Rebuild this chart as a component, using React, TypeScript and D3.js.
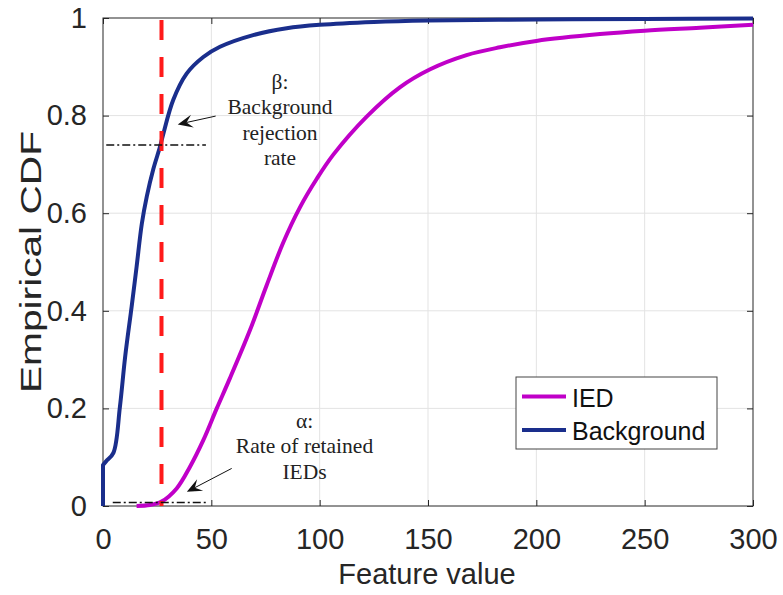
import { useRef, useEffect } from 'react';
import * as d3 from 'd3';

// Background empirical CDF (feature value, cdf); starts with a jump at 0
const bgX = [0, 0, 1.5, 4.8, 7.8, 10.2, 13.2, 15.5, 17.9, 20.2, 23.2, 26.3, 27.8, 32.4, 38.6, 46.3, 54, 69.3, 84.8, 100, 125, 150, 200, 250, 300];
const bgY = [0, 0.084, 0.092, 0.109, 0.203, 0.305, 0.408, 0.49, 0.578, 0.634, 0.69, 0.736, 0.762, 0.832, 0.886, 0.92, 0.941, 0.965, 0.979, 0.986, 0.992, 0.995, 0.997, 0.998, 0.999];

// IED empirical CDF
const iedX = [15.5, 21.7, 27, 34, 40.1, 46.3, 52.5, 58.6, 67.8, 75.5, 83.2, 90.9, 98.6, 106.3, 121.7, 137, 151, 167.8, 183.2, 200, 229.4, 250, 275.5, 300];
const iedY = [0, 0.002, 0.009, 0.036, 0.08, 0.135, 0.2, 0.262, 0.36, 0.452, 0.54, 0.612, 0.67, 0.72, 0.798, 0.858, 0.895, 0.924, 0.94, 0.953, 0.967, 0.974, 0.98, 0.986];

const xTicks = [0, 50, 100, 150, 200, 250, 300];
const yTicks = [0, 0.2, 0.4, 0.6, 0.8, 1];
const threshold = 27;
const alpha = 0.007;
const beta = 0.74;
const legendLabels = ['IED', 'Background'];
const legendColors = ['#c000c8', '#1a2e8c'];

export default function App() {
  const svgRef = useRef(null);

  useEffect(() => {
    const width = 783;
    const height = 595;
    const margin = { top: 18, right: 30, bottom: 89, left: 103 };

    const svg = d3.select(svgRef.current);
    svg.selectAll('*').remove();
    svg.attr('width', width).attr('height', height);

    const x = d3.scaleLinear().domain([0, 300]).range([margin.left, width - margin.right]);
    const y = d3.scaleLinear().domain([0, 1]).range([height - margin.bottom, margin.top]);
    const [x0, x1] = x.range();
    const [y0, y1] = y.range();

    svg.append('rect').attr('width', width).attr('height', height).attr('fill', '#fff');

    // grid
    svg.append('g')
      .selectAll('line')
      .data(xTicks.slice(1, -1))
      .join('line')
      .attr('x1', d => x(d)).attr('x2', d => x(d))
      .attr('y1', y1).attr('y2', y0)
      .attr('stroke', '#e3e3e3').attr('stroke-width', 1);
    svg.append('g')
      .selectAll('line')
      .data(yTicks.slice(1, -1))
      .join('line')
      .attr('x1', x0).attr('x2', x1)
      .attr('y1', d => y(d)).attr('y2', d => y(d))
      .attr('stroke', '#e3e3e3').attr('stroke-width', 1);

    const font = '"Liberation Sans", Arial, sans-serif';
    const serif = '"Liberation Serif", "Times New Roman", serif';

    // axes (inward ticks, box)
    const axisStyle = g => {
      g.select('.domain').remove();
      g.selectAll('.tick line').attr('stroke', '#262626');
      g.selectAll('.tick text')
        .attr('fill', '#262626')
        .attr('font-size', '29px')
        .attr('font-family', font);
    };
    svg.append('g')
      .attr('transform', `translate(0,${y0})`)
      .call(d3.axisBottom(x).tickValues(xTicks).tickSize(-6).tickPadding(22).tickFormat(d3.format('d')))
      .call(axisStyle);
    svg.append('g')
      .attr('transform', `translate(0,${y1})`)
      .call(d3.axisTop(x).tickValues(xTicks).tickSize(-6).tickFormat(() => ''))
      .call(axisStyle);
    svg.append('g')
      .attr('transform', `translate(${x0},0)`)
      .call(d3.axisLeft(y).tickValues(yTicks).tickSize(-6).tickPadding(16).tickFormat(d => d3.format('~g')(d)))
      .call(axisStyle);
    svg.append('g')
      .attr('transform', `translate(${x1},0)`)
      .call(d3.axisRight(y).tickValues(yTicks).tickSize(-6).tickFormat(() => ''))
      .call(axisStyle);
    svg.append('rect')
      .attr('x', x0).attr('y', y1)
      .attr('width', x1 - x0).attr('height', y0 - y1)
      .attr('fill', 'none').attr('stroke', '#262626').attr('stroke-width', 1);

    // curves
    const line = d3.line().x(d => x(d[0])).y(d => y(d[1])).curve(d3.curveCatmullRom.alpha(0.5));
    svg.append('path')
      .attr('d', line(iedX.map((v, i) => [v, iedY[i]])))
      .attr('fill', 'none').attr('stroke', legendColors[0]).attr('stroke-width', 4);
    // jump at 0 drawn straight, the rest smoothed
    const bgPts = bgX.map((v, i) => [v, bgY[i]]);
    const bgPath = `M${x(bgPts[0][0])},${y(bgPts[0][1])}L` + line(bgPts.slice(1)).slice(1);
    svg.append('path')
      .attr('d', bgPath)
      .attr('fill', 'none').attr('stroke', legendColors[1]).attr('stroke-width', 4)
      .attr('stroke-linejoin', 'round');

    // threshold
    svg.append('line')
      .attr('x1', x(threshold)).attr('x2', x(threshold))
      .attr('y1', y1 + 2).attr('y2', y0)
      .attr('stroke', '#ff1a1a').attr('stroke-width', 4)
      .attr('stroke-dasharray', '20,17');

    // alpha / beta reference lines
    svg.append('line')
      .attr('x1', x(1.5)).attr('x2', x(47.5))
      .attr('y1', y(beta)).attr('y2', y(beta))
      .attr('stroke', '#111').attr('stroke-width', 1.5)
      .attr('stroke-dasharray', '8,3,2,3');
    svg.append('line')
      .attr('x1', x(4.5)).attr('x2', x(47.5))
      .attr('y1', y(alpha)).attr('y2', y(alpha))
      .attr('stroke', '#111').attr('stroke-width', 1.5)
      .attr('stroke-dasharray', '8,3,2,3');

    // arrows
    const arrow = (fx, fy, tx, ty) => {
      const ang = Math.atan2(ty - fy, tx - fx);
      const len = 15, w = 6.5;
      const bx = tx - len * Math.cos(ang), by = ty - len * Math.sin(ang);
      const mx = tx - len * 0.6 * Math.cos(ang), my = ty - len * 0.6 * Math.sin(ang);
      const px = -Math.sin(ang) * w, py = Math.cos(ang) * w;
      svg.append('line')
        .attr('x1', fx).attr('y1', fy).attr('x2', mx).attr('y2', my)
        .attr('stroke', '#111').attr('stroke-width', 1);
      svg.append('path')
        .attr('d', `M${tx},${ty}L${bx + px},${by + py}L${mx},${my}L${bx - px},${by - py}Z`)
        .attr('fill', '#111');
    };
    arrow(x(52), y(0.799), x(34.5), y(0.782));
    arrow(x(59.4), y(0.077), x(38.7), y(0.029));

    // annotation text
    const ann = svg.append('g')
      .attr('font-family', serif).attr('font-size', '21.5px')
      .attr('fill', '#222').attr('text-anchor', 'middle');
    const betaLines = ['β:', 'Background', 'rejection', 'rate'];
    betaLines.forEach((t, i) => {
      ann.append('text').attr('x', x(81.7)).attr('y', 89 + i * 25.3).text(t);
    });
    const alphaLines = ['α:', 'Rate of retained', 'IEDs'];
    alphaLines.forEach((t, i) => {
      ann.append('text').attr('x', x(93)).attr('y', y(0.16) + i * 25.5).text(t);
    });

    // axis labels
    svg.append('text')
      .attr('x', (x0 + x1) / 2 - 1).attr('y', 584)
      .attr('text-anchor', 'middle')
      .attr('font-family', font).attr('font-size', '29px').attr('fill', '#262626')
      .text('Feature value');
    svg.append('text')
      .attr('transform', `translate(41,${(y0 + y1) / 2}) rotate(-90)`)
      .attr('text-anchor', 'middle')
      .attr('font-family', font).attr('font-size', '30px').attr('fill', '#262626')
      .attr('textLength', 262).attr('lengthAdjust', 'spacingAndGlyphs')
      .text('Empirical CDF');

    // legend
    const lg = svg.append('g').attr('transform', 'translate(516,377)');
    lg.append('rect')
      .attr('width', 201).attr('height', 72)
      .attr('fill', '#fff').attr('stroke', '#444').attr('stroke-width', 1);
    legendLabels.forEach((label, i) => {
      const cy = 19.5 + i * 33.5;
      lg.append('line')
        .attr('x1', 6).attr('x2', 50).attr('y1', cy).attr('y2', cy)
        .attr('stroke', legendColors[i]).attr('stroke-width', 4);
      lg.append('text')
        .attr('x', 56).attr('y', cy + 10)
        .attr('font-family', font).attr('font-size', '25px').attr('fill', '#111')
        .text(label);
    });
  }, []);

  return <svg ref={svgRef} style={{ position: 'absolute', left: 0, top: 0 }} />;
}
